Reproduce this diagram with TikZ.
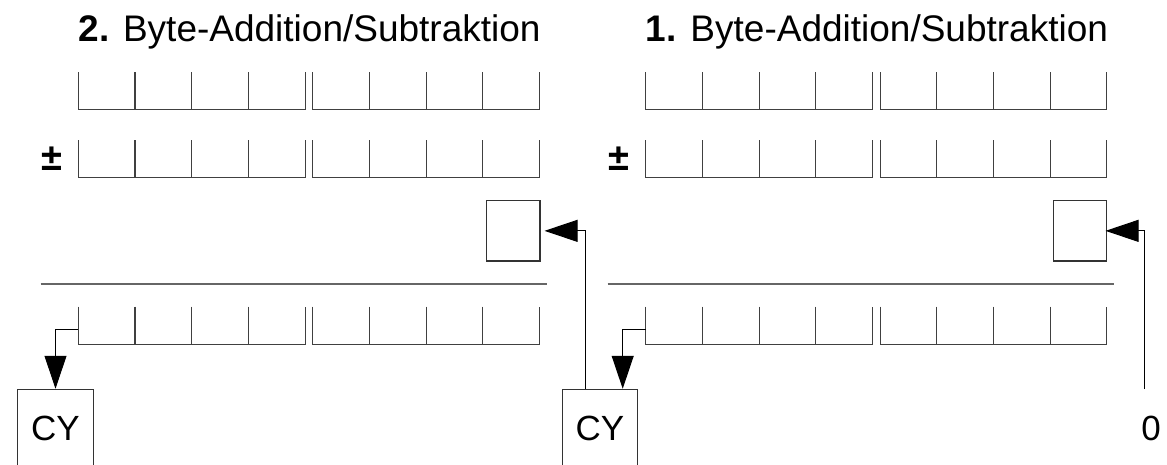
\documentclass[tikz,border=0pt]{standalone}
\usepackage{fontspec}
\setmainfont{Liberation Sans}
\usetikzlibrary{arrows.meta}
% one register row: two groups of four open-topped cells
\newcommand{\cellrow}[3]{%
  \foreach \gi in {0,1}{%
    \pgfmathsetmacro\gx{#1+\gi*234.4}
    \draw[cellline] (\gx,#2) -- (\gx,#2+37.5) -- (\gx+226.8,#2+37.5) -- (\gx+226.8,#2);
    \foreach \ci in {1,2,3}
      \draw[cellline] (\gx+\ci*56.7,#2) -- (\gx+\ci*56.7,#2+37.5);
  }
  \coordinate (#3) at (#1,#2+22.6);
}
\begin{document}
\begin{tikzpicture}[x=1pt,y=-1pt,
  cellline/.style={draw=black!75, line width=1.1pt},
  sepline/.style={draw=black!60, line width=1.4pt},
  arr/.style={draw=black, line width=1pt, -{Triangle[length=33pt,width=22pt]}},
  title/.style={inner sep=0pt, anchor=base west, font=\fontsize{37}{44}\selectfont},
  pm/.style={inner sep=0pt, font=\fontsize{38}{44}\selectfont\bfseries},
  flag/.style={draw=black!80, line width=1.1pt, minimum width=53.3pt, minimum height=60.3pt, inner sep=0pt},
  cybox/.style={draw=black!80, line width=1.1pt, minimum width=75.6pt, minimum height=77.4pt, inner sep=0pt, font=\fontsize{35}{42}\selectfont},
  lbl/.style={minimum height=77.4pt, inner sep=0pt, font=\fontsize{35}{42}\selectfont}]
\useasboundingbox (0,0) rectangle (1167,464);

% ---- left panel: 2. Byte ----
\node[title] (t2) at (78.3,41.7) {\textbf{2.} Byte-Addition/Subtraktion};
\cellrow{78.3}{72}{aL}
\node[pm] (pmL) at (52,159) {±};
\cellrow{78.3}{140}{bL}
\node[flag] (cbL) at (513.35,230.85) {};
\draw[sepline] (40.7,284) -- (546.7,284);
\cellrow{78.3}{306.7}{rL}
\node[cybox] (cyL) at (55.5,428) {CY};
\draw[arr] (rL) -| (cyL.north);

% ---- right panel: 1. Byte ----
\node[title] (t1) at (645.7,41.7) {\textbf{1.} Byte-Addition/Subtraktion};
\cellrow{645.7}{72}{aR}
\node[pm] (pmR) at (619.4,159) {±};
\cellrow{645.7}{140}{bR}
\node[flag] (cbR) at (1080,230.85) {};
\draw[sepline] (607.7,284) -- (1114,284);
\cellrow{645.7}{306.7}{rR}
\node[cybox] (cyR) at (600,428) {CY};
\draw[arr] (rR) -| ([xshift=22.7pt]cyR.north);
\node[lbl] (zero) at (1151,428) {0};

% carry connections
\draw[arr] ([xshift=-15pt]cyR.north) |- ([xshift=4pt]cbL.east);
\draw[arr] ([xshift=-6.7pt]zero.north) |- ([xshift=-1.7pt]cbR.east);
\end{tikzpicture}
\end{document}
